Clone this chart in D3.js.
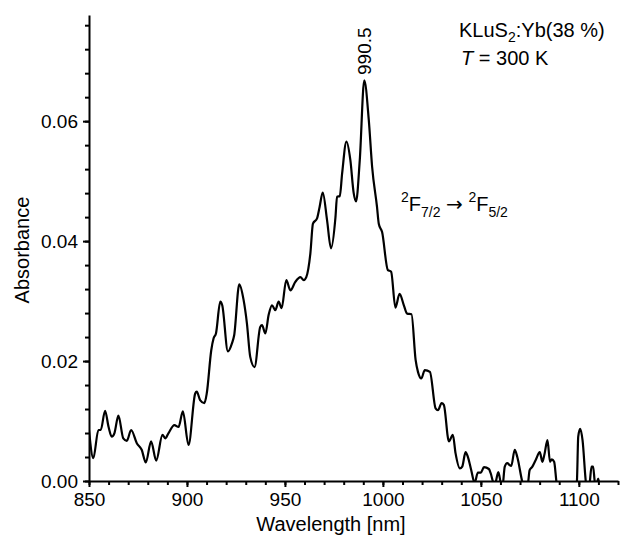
<!DOCTYPE html>
<html>
  <head>
    <meta charset="utf-8">
    <title>KLuS2:Yb absorbance</title>
    <style>
      body { margin: 0; background: #fff; }
      svg text { font-family: Arial, "Liberation Sans", sans-serif; fill: #000; }
    </style>
  </head>
  <body>
    <script src="https://d3js.org/d3.v7.min.js"></script>
    <script type="text/javascript">
      // spectrum
      var wavelength = [
        850.0, 852.2, 854.8, 856.0, 858.2, 860.0, 861.6, 863.0, 865.0, 867.5,
        869.3, 871.5, 874.4, 876.9, 879.0, 881.7, 884.3, 887.5, 888.9, 890.6,
        893.6, 895.7, 897.9, 900.8, 904.2, 905.0, 906.7, 908.9, 910.1, 912.4,
        913.6, 914.8, 917.0, 918.0, 920.9, 923.0, 924.1, 926.7, 928.9, 930.6,
        932.3, 934.5, 937.4, 938.3, 940.0, 941.7, 943.4, 945.1, 946.8, 948.3,
        950.7, 952.8, 955.3, 957.9, 959.6, 960.9, 963.0, 964.3, 966.4, 967.7,
        969.3, 971.5, 973.5, 975.8, 976.6, 978.0, 979.2, 981.4, 983.4, 985.1,
        986.3, 988.2, 990.5, 992.8, 994.5, 997.0, 997.9, 999.6, 1002.5, 1004.2,
        1006.4, 1008.5, 1010.7, 1012.4, 1014.6, 1016.7, 1017.9, 1019.6, 1021.4, 1024.0,
        1026.9, 1028.1, 1030.0, 1031.1, 1033.7, 1035.7, 1037.1, 1039.3, 1040.5, 1042.2,
        1043.4, 1045.1, 1046.8, 1048.5, 1050.0, 1051.6, 1054.1, 1055.0, 1056.7, 1057.5,
        1058.9, 1060.1, 1061.0, 1062.2, 1063.5, 1064.5, 1065.5, 1067.3, 1068.6, 1071.2,
        1072.5, 1074.0, 1074.9, 1076.3, 1078.0, 1080.1, 1081.4, 1082.5, 1084.0, 1085.3,
        1086.2, 1087.4, 1088.6, 1090.0, 1095.0, 1099.0, 1099.7, 1100.7, 1101.9, 1103.6,
        1104.5, 1105.6, 1106.5, 1107.3, 1108.2, 1109.0, 1109.9, 1110.3
      ];
      var absorbance = [
        0.0085, 0.0038, 0.0085, 0.0085, 0.0117, 0.0090, 0.0074, 0.0080, 0.0109, 0.0071,
        0.0067, 0.0085, 0.0063, 0.0052, 0.0031, 0.0066, 0.0034, 0.0077, 0.0071, 0.0080,
        0.0093, 0.0090, 0.0116, 0.0060, 0.0146, 0.0149, 0.0135, 0.0130, 0.0146, 0.0218,
        0.0238, 0.0246, 0.0299, 0.0293, 0.0216, 0.0230, 0.0243, 0.0328, 0.0302, 0.0263,
        0.0207, 0.0190, 0.0257, 0.0260, 0.0246, 0.0277, 0.0293, 0.0285, 0.0299, 0.0288,
        0.0335, 0.0318, 0.0332, 0.0340, 0.0335, 0.0340, 0.0380, 0.0429, 0.0438, 0.0457,
        0.0481, 0.0435, 0.0388, 0.0440, 0.0474, 0.0475, 0.0513, 0.0566, 0.0535, 0.0480,
        0.0466, 0.0535, 0.0668, 0.0602, 0.0524, 0.0457, 0.0429, 0.0415, 0.0352, 0.0349,
        0.0289, 0.0312, 0.0293, 0.0279, 0.0278, 0.0202, 0.0182, 0.0171, 0.0185, 0.0182,
        0.0121, 0.0118, 0.0130, 0.0127, 0.0066, 0.0077, 0.0046, 0.0021, 0.0024, 0.0048,
        0.0040, 0.0018, -0.0003, 0.0014, 0.0014, 0.0023, 0.0020, 0.0013, -0.0004, -0.0002,
        0.0015, -0.0002, -0.0010, 0.0024, 0.0030, 0.0027, 0.0025, 0.0052, 0.0040, -0.0002,
        -0.0015, -0.0005, 0.0018, 0.0024, 0.0035, 0.0048, 0.0032, 0.0045, 0.0068, 0.0032,
        0.0036, 0.0032, -0.0002, -0.0030, -0.0040, -0.0002, 0.0074, 0.0087, 0.0068, -0.0002,
        -0.0020, -0.0002, 0.0024, 0.0024, -0.0002, -0.0005, 0.0004, -0.0002
      ];
      var xTicks = [850, 900, 950, 1000, 1050, 1100];
      var yTicks = [0, 0.02, 0.04, 0.06];
      var peakLabel = 990.5;

      var w = 621;
      var h = 539;
      var mLeft = 89, mRight = 618, mTop = 15, mBottom = 481;

      var svg = d3.select('body').append('svg').attr('width', w).attr('height', h);

      var xScale = d3.scaleLinear().domain([850, 1120]).range([mLeft, mRight]);
      var yScale = d3.scaleLinear().domain([0, 0.0777]).range([mBottom, mTop]);

      svg.append('clipPath').attr('id', 'plotArea')
        .append('rect')
        .attr('x', mLeft).attr('y', mTop - 2)
        .attr('width', mRight - mLeft).attr('height', mBottom - mTop + 2);

      var line = d3.line()
        .x(function(d, i) { return xScale(wavelength[i]); })
        .y(function(d) { return yScale(d); })
        .curve(d3.curveMonotoneX);

      svg.append('path')
        .datum(absorbance)
        .attr('clip-path', 'url(#plotArea)')
        .attr('d', line)
        .attr('fill', 'none')
        .attr('stroke', '#000')
        .attr('stroke-width', 2.2)
        .attr('stroke-linejoin', 'round');

      // minor ticks first, then labelled axes on top
      svg.append('g')
        .attr('transform', 'translate(0,' + mBottom + ')')
        .call(d3.axisBottom(xScale).tickValues(d3.range(850, 1121, 10)).tickSize(4).tickFormat(''))
        .call(function(g) { g.select('.domain').remove(); });
      svg.append('g')
        .attr('transform', 'translate(' + mLeft + ',0)')
        .call(d3.axisLeft(yScale).tickValues(d3.range(0, 0.0777, 0.004)).tickSize(4).tickFormat(''))
        .call(function(g) { g.select('.domain').remove(); });

      svg.append('g')
        .attr('transform', 'translate(0,' + mBottom + ')')
        .call(d3.axisBottom(xScale).tickValues(xTicks).tickSize(6).tickSizeOuter(0).tickPadding(6)
          .tickFormat(d3.format('d')));
      svg.append('g')
        .attr('transform', 'translate(' + mLeft + ',0)')
        .call(d3.axisLeft(yScale).tickValues(yTicks).tickSize(6).tickSizeOuter(0).tickPadding(5)
          .tickFormat(d3.format('.2f')));

      svg.selectAll('.tick line, .domain').attr('stroke', '#000').attr('stroke-width', 2);
      svg.selectAll('.tick text').attr('font-size', '19px');

      svg.append('text')
        .attr('transform', 'translate(29,' + ((mTop + mBottom) / 2 + 2) + ') rotate(-90)')
        .attr('text-anchor', 'middle')
        .attr('font-size', '20px')
        .text('Absorbance');

      svg.append('text')
        .attr('x', 331).attr('y', 531)
        .attr('text-anchor', 'middle')
        .attr('font-size', '20px')
        .text('Wavelength [nm]');

      // peak position
      svg.append('text')
        .attr('transform', 'translate(' + (xScale(peakLabel) + 7) + ',75) rotate(-90)')
        .attr('font-size', '19px')
        .text(peakLabel);

      var title = svg.append('text').attr('x', 459).attr('y', 37).attr('font-size', '20px');
      title.append('tspan').text('KLuS');
      title.append('tspan').attr('font-size', '14px').attr('dy', 5).text('2');
      title.append('tspan').attr('dy', -5).text(':Yb(38 %)');

      var temp = svg.append('text').attr('x', 461).attr('y', 65).attr('font-size', '20px');
      temp.append('tspan').attr('font-style', 'italic').text('T');
      temp.append('tspan').text(' = 300 K');

      var trans = svg.append('text').attr('x', 401).attr('y', 211).attr('font-size', '20px');
      trans.append('tspan').attr('font-size', '14px').attr('dy', -9).text('2');
      trans.append('tspan').attr('dy', 9).text('F');
      trans.append('tspan').attr('font-size', '14px').attr('dy', 6).text('7/2');
      trans.append('tspan').attr('dy', -6).text(' ');
      trans.append('tspan').attr('font-family', '"DejaVu Sans"').attr('font-size', '20px').text('\u2192');
      trans.append('tspan').text(' ');
      trans.append('tspan').attr('font-size', '14px').attr('dy', -9).text('2');
      trans.append('tspan').attr('dy', 9).text('F');
      trans.append('tspan').attr('font-size', '14px').attr('dy', 6).text('5/2');
    </script>
  </body>
</html>
